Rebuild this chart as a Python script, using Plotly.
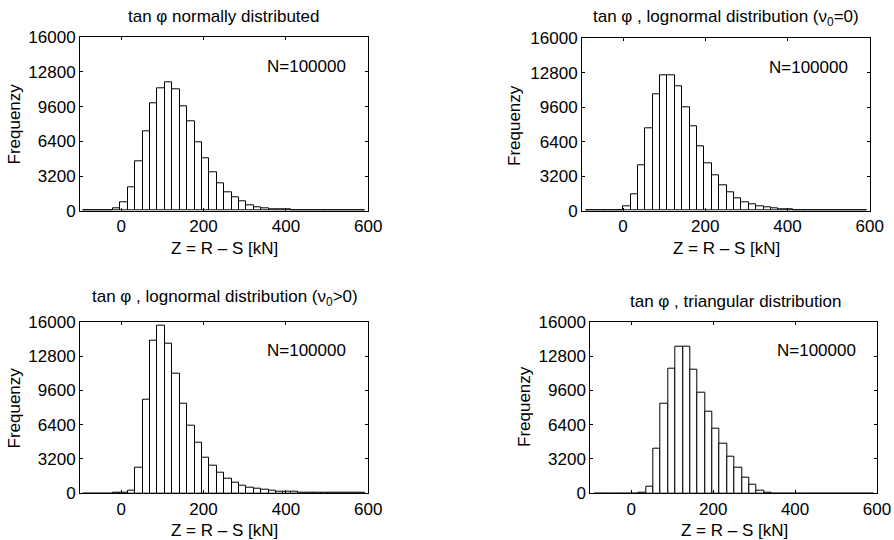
import plotly.graph_objects as go

W, H = 894, 540
FONT = "Liberation Sans, Arial, Helvetica, sans-serif"

# ── Data: histogram counts, bin width 18 kN ─────────────────────────────────
BIN_W = 18

# tan phi normally distributed
START_NORMAL = -92
COUNTS_NORMAL = [0, 0, 0, 0, 180, 780, 2150, 4520, 7290, 9890, 11290, 11850,
                 11230, 9660, 8215, 6340, 4830, 3540, 2550, 1740, 1220, 850,
                 520, 350, 240, 170, 120, 90, 60, 40, 30, 20, 10, 10, 5, 5, 0, 0]

# lognormal (nu0 = 0)
START_LOGN0 = -90
COUNTS_LOGN0 = [0, 0, 0, 0, 0, 370, 1510, 4200, 7650, 10780, 12540, 12540,
                11550, 9600, 7850, 5980, 4400, 3300, 2330, 1700, 1150, 770,
                560, 370, 270, 180, 130, 90, 60, 40, 30, 20, 10, 10, 5, 5, 0, 0]

# lognormal (nu0 > 0)
START_LOGNP = -92
COUNTS_LOGNP = [0, 0, 0, 0, 20, 60, 220, 2360, 8700, 14190, 15650, 13910,
                11120, 8390, 6340, 4720, 3350, 2610, 1960, 1400, 1020, 745,
                560, 400, 310, 250, 190, 155, 125, 95, 80, 60, 50, 40, 30, 20,
                15, 10]

# triangular
START_TRI = -90
COUNTS_TRI = [0, 0, 0, 0, 0, 0, 30, 620, 4130, 8320, 11580, 13660, 13660,
              11490, 9380, 7640, 6060, 4660, 3450, 2390, 1490, 780, 220, 30,
              0, 0, 0, 0, 0, 0, 0, 0, 0, 0, 0, 0, 0, 0]

TITLES = [
    "tan φ normally distributed",
    "tan φ , lognormal distribution (ν<sub>0</sub>=0)",
    "tan φ , lognormal distribution (ν<sub>0</sub>>0)",
    "tan φ , triangular distribution",
]
N_TEXT = "N=100000"
X_LABEL = "Z = R – S [kN]"
Y_LABEL = "Frequenzy"
X_TICKS = [0, 200, 400, 600]
Y_TICKS = [0, 3200, 6400, 9600, 12800, 16000]

# ── Panel geometry (pixels: left, right, top, bottom) ───────────────────────
PANELS = [
    dict(box=(80, 368.3, 37.3, 210.7), title=(224, 17), ylab=(13.5, 124), xlab=(224, 248)),
    dict(box=(582, 869.7, 38.3, 210.7), title=(726, 18), ylab=(514, 126), xlab=(726, 248)),
    dict(box=(80, 368.3, 321.7, 493.3), title=(225, 298), ylab=(13.5, 408), xlab=(224, 530)),
    dict(box=(590.3, 877, 321.7, 493.3), title=(735, 301.5), ylab=(524, 407), xlab=(734, 530)),
]
SERIES = [(START_NORMAL, COUNTS_NORMAL), (START_LOGN0, COUNTS_LOGN0),
          (START_LOGNP, COUNTS_LOGNP), (START_TRI, COUNTS_TRI)]


def px(x, y):
    return x / W, 1 - y / H


fig = go.Figure()
annotations = []

for i, (panel, (start, counts)) in enumerate(zip(PANELS, SERIES)):
    n = "" if i == 0 else str(i + 1)
    centers = [start + BIN_W * (k + 0.5) for k in range(len(counts))]
    fig.add_trace(go.Bar(
        x=centers, y=counts, width=BIN_W,
        marker=dict(color="white", line=dict(color="black", width=1)),
        xaxis="x" + n, yaxis="y" + n, hoverinfo="x+y",
    ))

    l, r, t, b = panel["box"]
    axis_common = dict(
        showline=True, linecolor="black", linewidth=1, mirror="ticks",
        ticks="inside", ticklen=3, tickcolor="black", showgrid=False,
        zeroline=False, automargin=False, tickformat="d",
        tickfont=dict(family=FONT, size=17, color="black"),
    )
    fig.update_layout({
        "xaxis" + n: dict(axis_common, domain=[l / W, r / W], range=[-100, 600],
                          tickvals=X_TICKS, anchor="y" + n),
        "yaxis" + n: dict(axis_common, domain=[1 - b / H, 1 - t / H], range=[0, 16000],
                          tickvals=Y_TICKS, anchor="x" + n),
    })

    tx, ty = px(*panel["title"])
    annotations.append(dict(text=TITLES[i], x=tx, y=ty, xref="paper", yref="paper",
                            showarrow=False, xanchor="center", yanchor="middle",
                            font=dict(family=FONT, size=17, color="black")))
    lx, ly = px(*panel["ylab"])
    annotations.append(dict(text=Y_LABEL, x=lx, y=ly, xref="paper", yref="paper",
                            textangle=-90, showarrow=False, xanchor="center", yanchor="middle",
                            font=dict(family=FONT, size=17, color="black")))
    xx, xy = px(*panel["xlab"])
    annotations.append(dict(text=X_LABEL, x=xx, y=xy, xref="paper", yref="paper",
                            showarrow=False, xanchor="center", yanchor="middle",
                            font=dict(family=FONT, size=17, color="black")))
    annotations.append(dict(text=N_TEXT, x=350, y=13300, xref="x" + n, yref="y" + n,
                            showarrow=False, xanchor="left", yanchor="middle",
                            font=dict(family=FONT, size=17, color="black")))

fig.update_layout(
    width=W, height=H,
    margin=dict(l=0, r=0, t=0, b=0, autoexpand=False),
    paper_bgcolor="white", plot_bgcolor="white",
    showlegend=False, bargap=0,
    annotations=annotations,
)

# page body has an 8px default margin; drop it so the figure sits at 0,0
fig.write_html("out.html", config={"displayModeBar": False},
               post_script="document.body.style.margin='0';")
